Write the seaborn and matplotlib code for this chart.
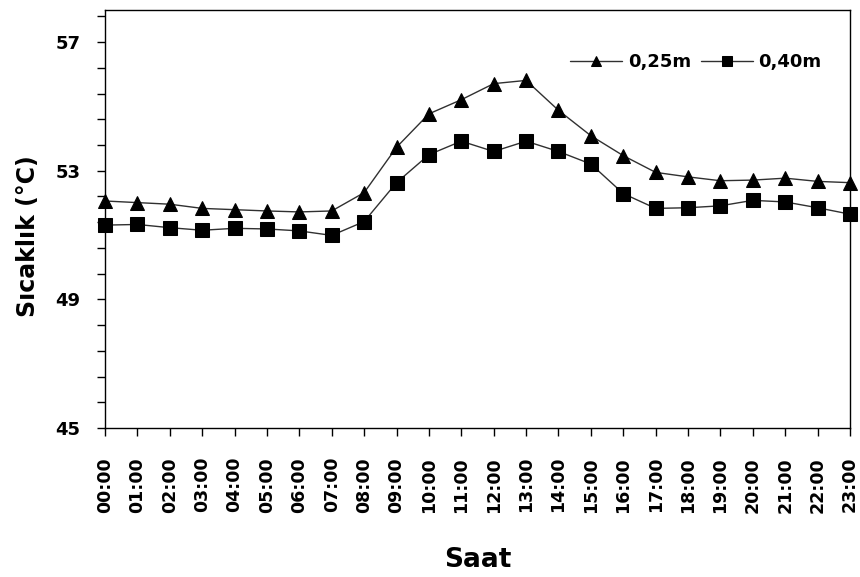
import matplotlib
matplotlib.use("Agg")
import matplotlib.pyplot as plt
import seaborn as sns
import pandas as pd
import numpy as np
from matplotlib.ticker import FixedLocator

hours = [f"{h:02d}:00" for h in range(24)]
t025 = [52.06, 52.01, 51.96, 51.83, 51.79, 51.75, 51.72, 51.75, 52.32,
        53.73, 54.77, 55.21, 55.71, 55.81, 54.88, 54.09, 53.47,
        52.95, 52.81, 52.69, 52.71, 52.77, 52.67, 52.63]
t040 = [51.31, 51.33, 51.23, 51.15, 51.21, 51.19, 51.13, 50.99, 51.42,
        52.63, 53.50, 53.92, 53.60, 53.92, 53.60, 53.21, 52.29,
        51.83, 51.85, 51.91, 52.08, 52.03, 51.85, 51.65]
series_names = ["0,25m", "0,40m"]
yticks = [45, 49, 53, 57]

df = pd.DataFrame({"x": list(range(24)) * 2,
                   "v": t025 + t040,
                   "s": [series_names[0]] * 24 + [series_names[1]] * 24})

sns.set_theme(style="ticks")
plt.rcParams['font.family'] = ['DejaVu Sans']
plt.rcParams['font.weight'] = 'bold'
plt.rcParams['text.color'] = 'black'
plt.rcParams['axes.labelcolor'] = 'black'
plt.rcParams['xtick.color'] = 'black'
plt.rcParams['ytick.color'] = 'black'
plt.rcParams['xtick.labelcolor'] = 'black'
plt.rcParams['ytick.labelcolor'] = 'black'

fig = plt.figure(figsize=(8.6, 5.77), dpi=100)
ax = fig.add_axes([105 / 860, 1 - 428 / 577, 745 / 860, 418 / 577])

sns.lineplot(data=df, x="x", y="v", hue="s", style="s",
             palette={series_names[0]: "#303030", series_names[1]: "#303030"},
             markers={series_names[0]: "^", series_names[1]: "s"},
             dashes=False, linewidth=1.0, markersize=9.5,
             markerfacecolor="black", markeredgecolor="black",
             ax=ax, clip_on=False, legend=True)
for line in ax.get_lines():
    if line.get_marker() == "s":
        line.set_markersize(10.5)

ax.set_xlim(0, 23)
ax.set_ylim(45, 58)
ax.set_xticks(range(24))
ax.set_xticklabels(hours, rotation=90, fontsize=12.5, fontweight='bold', color='black')
ax.set_yticks(yticks)
ax.set_yticklabels([str(v) for v in yticks], fontsize=13, fontweight='bold', color='black')
minor = [m for m in np.arange(45, 58.01, 0.8) if all(abs(m - t) > 1e-6 for t in yticks)]
ax.yaxis.set_minor_locator(FixedLocator(minor))
ax.tick_params(axis='both', which='major', direction='out', length=5.8, width=1, color='black')
ax.tick_params(axis='y', which='minor', direction='out', length=5.8, width=1, color='black')
ax.tick_params(axis='x', pad=15)
ax.tick_params(axis='y', pad=12)
for sp in ax.spines.values():
    sp.set_visible(True)
    sp.set_color('black')
    sp.set_linewidth(1.0)

ax.set_xlabel("Saat", fontsize=19, fontweight='bold', color='black')
ax.xaxis.set_label_coords(0.5, -0.285)
ax.xaxis.label.set_va('top')
ax.set_ylabel("Sıcaklık (°C)", fontsize=17, fontweight='bold', color='black')
ax.yaxis.set_label_coords(-0.103, 0.46)
ax.yaxis.label.set_va('center')

leg = ax.legend(loc='center right', bbox_to_anchor=(0.962, 0.876), ncol=2, frameon=False,
                fontsize=13, handlelength=2.9, columnspacing=0.55, handletextpad=0.3,
                borderaxespad=0, borderpad=0, markerscale=0.7, title=None)
for t in leg.get_texts():
    t.set_fontweight('bold')
    t.set_color('black')

fig.savefig("out.png", dpi=100, facecolor='white')
